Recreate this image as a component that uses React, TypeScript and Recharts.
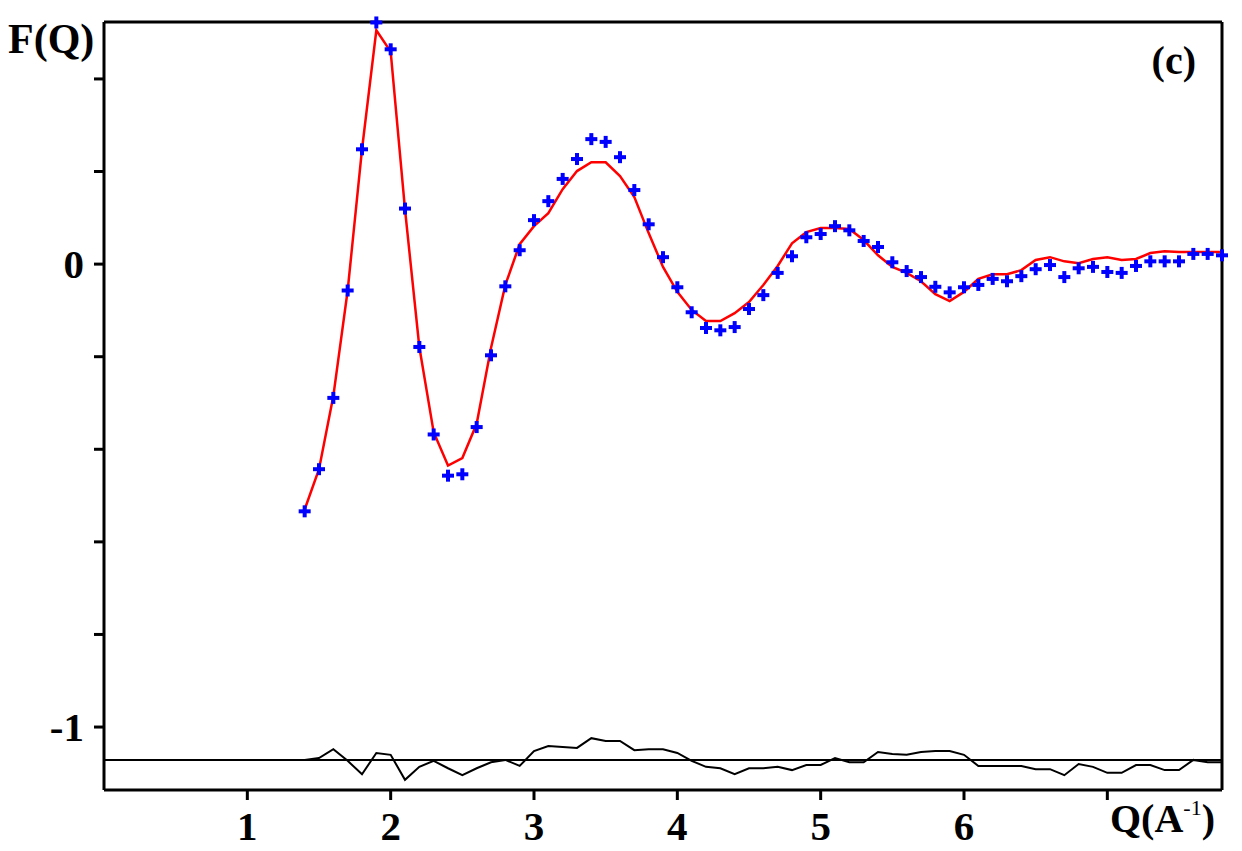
import React from 'react';
import { ComposedChart, Line, Scatter, XAxis, YAxis, ReferenceLine } from 'recharts';

const qObs = [1.4,1.5,1.6,1.7,1.8,1.9,2.0,2.1,2.2,2.3,2.4,2.5,2.6,2.7,2.8,2.9,3.0,3.1,3.2,3.3,3.4,3.5,3.6,3.7,3.8,3.9,4.0,4.1,4.2,4.3,4.4,4.5,4.6,4.7,4.8,4.9,5.0,5.1,5.2,5.3,5.4,5.5,5.6,5.7,5.8,5.9,6.0,6.1,6.2,6.3,6.4,6.5,6.6,6.7,6.8,6.9,7.0,7.1,7.2,7.3,7.4,7.5,7.6,7.7,7.8];
const fObs = [-0.534,-0.443,-0.289,-0.057,0.248,0.522,0.464,0.120,-0.179,-0.368,-0.457,-0.454,-0.352,-0.197,-0.048,0.030,0.095,0.136,0.184,0.227,0.270,0.264,0.231,0.160,0.086,0.015,-0.050,-0.104,-0.138,-0.143,-0.136,-0.097,-0.067,-0.019,0.017,0.058,0.065,0.082,0.073,0.050,0.037,0.004,-0.015,-0.028,-0.049,-0.061,-0.050,-0.045,-0.032,-0.037,-0.026,-0.011,-0.002,-0.028,-0.009,-0.006,-0.017,-0.019,-0.004,0.006,0.006,0.006,0.022,0.022,0.019];
const fFit = [-0.530,-0.443,-0.285,-0.057,0.248,0.505,0.459,0.118,-0.179,-0.363,-0.435,-0.419,-0.345,-0.181,-0.045,0.043,0.082,0.110,0.162,0.201,0.220,0.220,0.190,0.145,0.067,-0.006,-0.060,-0.099,-0.123,-0.123,-0.106,-0.082,-0.045,-0.004,0.045,0.069,0.078,0.078,0.076,0.052,0.019,-0.006,-0.019,-0.037,-0.065,-0.080,-0.060,-0.032,-0.022,-0.022,-0.013,0.009,0.015,0.006,0.002,0.011,0.015,0.009,0.011,0.024,0.028,0.026,0.026,0.026,0.026];
const qRes = [1.3,1.4,1.5,1.6,1.7,1.8,1.9,2.0,2.1,2.2,2.3,2.4,2.5,2.6,2.7,2.8,2.9,3.0,3.1,3.2,3.3,3.4,3.5,3.6,3.7,3.8,3.9,4.0,4.1,4.2,4.3,4.4,4.5,4.6,4.7,4.8,4.9,5.0,5.1,5.2,5.3,5.4,5.5,5.6,5.7,5.8,5.9,6.0,6.1,6.2,6.3,6.4,6.5,6.6,6.7,6.8,6.9,7.0,7.1,7.2,7.3,7.4,7.5,7.6,7.7,7.8];
const fRes = [-1.071,-1.071,-1.067,-1.048,-1.073,-1.102,-1.056,-1.060,-1.114,-1.086,-1.073,-1.089,-1.104,-1.089,-1.076,-1.071,-1.084,-1.052,-1.041,-1.043,-1.045,-1.024,-1.030,-1.030,-1.050,-1.048,-1.048,-1.056,-1.073,-1.086,-1.089,-1.102,-1.089,-1.089,-1.086,-1.093,-1.082,-1.082,-1.067,-1.076,-1.076,-1.054,-1.058,-1.060,-1.054,-1.052,-1.052,-1.060,-1.084,-1.084,-1.084,-1.084,-1.091,-1.091,-1.104,-1.080,-1.086,-1.099,-1.099,-1.082,-1.082,-1.093,-1.093,-1.071,-1.076,-1.076];
const residualBaseline = -1.071;

const xTicks = [1, 2, 3, 4, 5, 6, 7];
const xTickLabels = ['1', '2', '3', '4', '5', '6', ''];
const yTicks = [0.4, 0.2, 0, -0.2, -0.4, -0.6, -0.8, -1];
const yTickLabels: Record<string, string> = { '0': '0', '-1': '-1' };
const xDomain = [0, 7.8];
const yDomain = [-1.136, 0.523];

const obsData = qObs.map((q, i) => ({ q, v: fObs[i] }));
const fitData = qObs.map((q, i) => ({ q, v: fFit[i] }));
const resData = qRes.map((q, i) => ({ q, v: fRes[i] }));

const FONT = '"Liberation Serif", "Times New Roman", serif';

const Plus = (props: any) => {
  const { cx, cy } = props;
  if (cx == null || cy == null) return null;
  return (
    <g>
      <rect x={cx - 6} y={cy - 2} width={12} height={4} fill="#0000ff" />
      <rect x={cx - 2} y={cy - 6} width={4} height={12} fill="#0000ff" />
    </g>
  );
};

const XTick = (props: any) => {
  const { x, y, payload } = props;
  const idx = xTicks.indexOf(payload.value);
  const label = idx >= 0 ? xTickLabels[idx] : '';
  return (
    <text x={x} y={y + 40} textAnchor="middle" fontFamily={FONT} fontWeight="bold" fontSize={41} fill="#000">
      {label}
    </text>
  );
};

const YTick = (props: any) => {
  const { x, y, payload } = props;
  const label = yTickLabels[String(payload.value)] ?? '';
  return (
    <text x={x} y={y} dy="0.35em" textAnchor="end" fontFamily={FONT} fontWeight="bold" fontSize={41} fill="#000">
      {label}
    </text>
  );
};

export default function App() {
  return (
    <div style={{ position: 'absolute', left: 0, top: 0, width: 1242, height: 851, background: '#fff' }}>
      <ComposedChart width={1242} height={851} margin={{ top: 22, right: 20, left: 0, bottom: 0 }}>
        <XAxis
          type="number"
          dataKey="q"
          domain={xDomain}
          ticks={xTicks}
          interval={0}
          height={61}
          tickSize={10}
          tickMargin={0}
          axisLine={{ stroke: '#000', strokeWidth: 3 }}
          tickLine={{ stroke: '#000', strokeWidth: 3 }}
          tick={<XTick />}
        />
        <YAxis
          type="number"
          domain={yDomain}
          ticks={yTicks}
          interval={0}
          width={104}
          tickSize={10}
          tickMargin={10}
          axisLine={{ stroke: '#000', strokeWidth: 3 }}
          tickLine={{ stroke: '#000', strokeWidth: 3 }}
          tick={<YTick />}
        />
        <ReferenceLine y={yDomain[1]} stroke="#000" strokeWidth={3} />
        <ReferenceLine x={xDomain[1]} stroke="#000" strokeWidth={3} />
        <ReferenceLine y={residualBaseline} stroke="#000" strokeWidth={2} />
        <Line data={resData} dataKey="v" type="linear" stroke="#000" strokeWidth={2} dot={false} isAnimationActive={false} />
        <Line data={fitData} dataKey="v" type="linear" stroke="#ff0000" strokeWidth={2.5} dot={false} isAnimationActive={false} />
        <Scatter data={obsData} dataKey="v" shape={<Plus />} isAnimationActive={false} />
      </ComposedChart>
      <svg width={1242} height={851} style={{ position: 'absolute', left: 0, top: 0, pointerEvents: 'none' }}>
        <text x={8} y={53} fontFamily={FONT} fontWeight="bold" fontSize={42} fill="#000">F(Q)</text>
        <text x={1196} y={74} textAnchor="end" fontFamily={FONT} fontWeight="bold" fontSize={40} fill="#000">(c)</text>
        <text x={1110} y={832} fontFamily={FONT} fontWeight="bold" fontSize={40} fill="#000">
          Q(A<tspan fontSize={22} fontWeight="normal" dy={-17}>-1</tspan><tspan dy={17}>)</tspan>
        </text>
      </svg>
    </div>
  );
}
